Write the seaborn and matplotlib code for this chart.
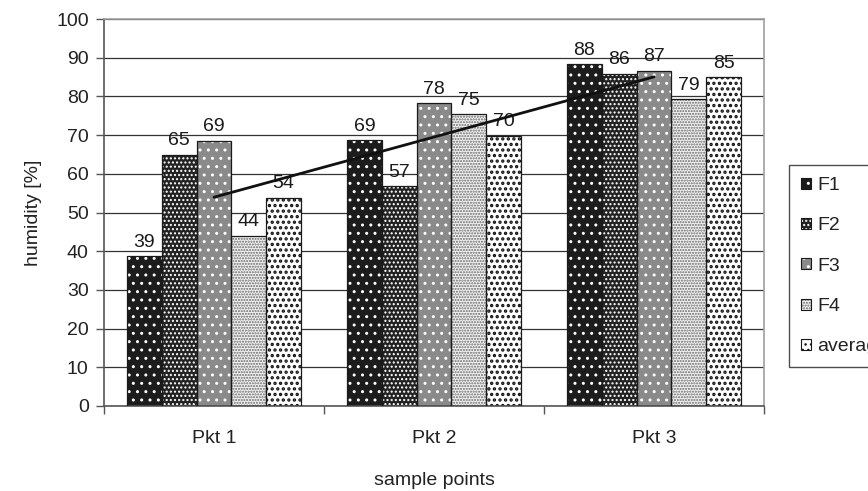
import numpy as np
import pandas as pd
import matplotlib
matplotlib.use("Agg")
import matplotlib.pyplot as plt
from matplotlib.patches import Rectangle, Patch
from matplotlib.legend_handler import HandlerTuple
import seaborn as sns

categories = ["Pkt 1", "Pkt 2", "Pkt 3"]
series = ["F1", "F2", "F3", "F4", "average"]
F1 = [38.7, 68.7, 88.3]
F2 = [64.9, 56.8, 85.8]
F3 = [68.6, 78.2, 86.6]
F4 = [44.0, 75.4, 79.3]
average = [53.8, 69.8, 84.9]
y_ticks = list(range(0, 101, 10))

values = {"F1": F1, "F2": F2, "F3": F3, "F4": F4, "average": average}
rows = []
for s in series:
    for c, v in zip(categories, values[s]):
        rows.append({"point": c, "series": s, "value": v})
df = pd.DataFrame(rows)

sns.set_theme(style="white")
plt.rcParams["font.family"] = ["Liberation Sans", "DejaVu Sans"]
plt.rcParams["hatch.linewidth"] = 1.0

FS = 14

styles = {
    "F1": dict(face="#1c1c1c", hatch="..", hc="#ffffff", hlw=1.0),
    "F2": dict(face="#222222", hatch="....", hc="#ffffff", hlw=1.0),
    "F3": dict(face="#8a8a8a", hatch="..", hc="#ffffff", hlw=1.0),
    "F4": dict(face="#f0f0f0", hatch="......", hc="#6a6a6a", hlw=1.0),
    "average": dict(face="#ffffff", hatch="...", hc="#111111", hlw=1.6),
}

def style_patch(p, st):
    p.set_facecolor(st["face"])
    p.set_edgecolor(st["hc"])
    p.set_hatch(st["hatch"])
    p.set_linewidth(0)
    if hasattr(p, "set_hatch_linewidth"):
        p.set_hatch_linewidth(st["hlw"])

fig = plt.figure(figsize=(8.68, 4.91), dpi=100)
ax = fig.add_axes([104 / 868, 1 - 406 / 491, 660 / 868, 387 / 491])

sns.barplot(data=df, x="point", y="value", hue="series", order=categories,
            hue_order=series, width=0.79, gap=0, saturation=1, ax=ax,
            legend=False, errorbar=None)

handles = []
for s, cont in zip(series, ax.containers):
    st = styles[s]
    for p in cont.patches:
        style_patch(p, st)
        ax.add_patch(Rectangle(p.get_xy(), p.get_width(), p.get_height(),
                               fill=False, edgecolor="#1a1a1a", lw=0.9, zorder=3))
    labels = [f"{v:.0f}" for v in values[s]]
    ax.bar_label(cont, labels=labels, padding=4, fontsize=FS, color="#1a1a1a")
    h1 = Patch()
    style_patch(h1, st)
    h2 = Patch(fill=False, edgecolor="#1a1a1a", lw=0.8)
    handles.append((h1, h2))

# linear trend of the average series
xs = np.arange(len(categories))
coef = np.polyfit(xs, average, 1)
ax.plot([xs[0], xs[-1]], np.polyval(coef, [xs[0], xs[-1]]), color="#111111",
        lw=2.0, zorder=5)

ax.set_ylim(0, 100)
ax.set_xlim(-0.5, len(categories) - 0.5)
ax.set_yticks(y_ticks)
ax.yaxis.grid(True, color="#333333", lw=0.9)
ax.set_axisbelow(True)
ax.set_xticks(np.arange(-0.5, len(categories), 1.0), minor=True)
ax.tick_params(axis="x", which="major", length=0, labelsize=FS, colors="#222222", pad=17)
ax.tick_params(axis="x", which="minor", length=6, width=1, color="#555555", direction="out", bottom=True)
ax.tick_params(axis="y", length=6, width=1, color="#555555", direction="out", left=True,
               labelsize=FS, labelcolor="#222222", pad=5)
for sp in ["left", "bottom"]:
    ax.spines[sp].set_color("#555555")
    ax.spines[sp].set_linewidth(1.2)
for sp in ["top", "right"]:
    ax.spines[sp].set_color("#a0a0a0")
    ax.spines[sp].set_linewidth(1.2)
    ax.spines[sp].set_visible(True)

ax.set_xlabel("sample points", fontsize=FS, color="#222222", labelpad=18)
ax.set_ylabel("humidity [%]", fontsize=FS, color="#222222", labelpad=10)

leg = fig.legend(handles, series, handler_map={tuple: HandlerTuple(ndivide=1, pad=0)},
                 loc="upper left", bbox_to_anchor=(789 / 868, 1 - 165 / 491),
                 bbox_transform=fig.transFigure, fontsize=FS, frameon=True,
                 fancybox=False, handlelength=0.5, handleheight=0.5, handletextpad=0.35,
                 labelspacing=1.2, borderpad=0.62, borderaxespad=0)
leg.get_frame().set_edgecolor("#222222")
leg.get_frame().set_linewidth(1.0)
for t in leg.get_texts():
    t.set_color("#222222")

fig.savefig("out.png", dpi=100)
